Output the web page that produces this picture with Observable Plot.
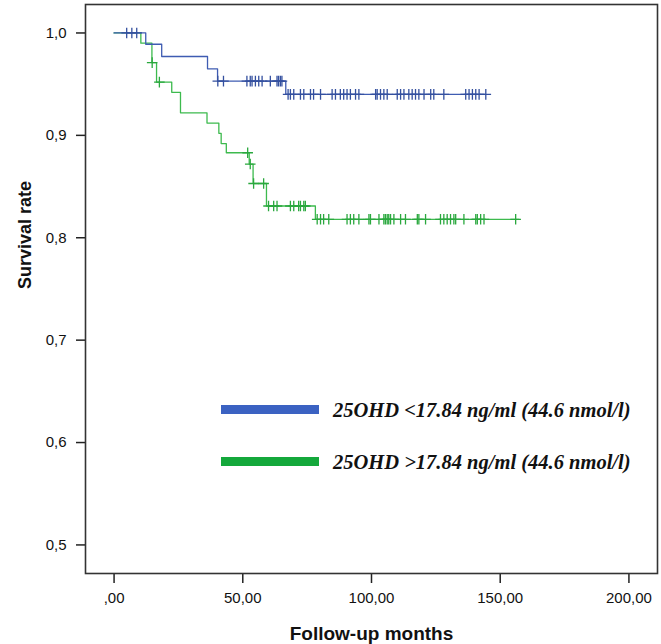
<!DOCTYPE html>
<html>
<head>
<meta charset="utf-8">
<script src="https://cdn.jsdelivr.net/npm/d3@7"></script>
<script src="https://cdn.jsdelivr.net/npm/@observablehq/plot@0.6"></script>
<style>
  html, body { margin: 0; padding: 0; background: #fff; }
  #wrap { position: relative; width: 661px; height: 644px; }
  .lg-bar { position: absolute; left: 221px; width: 98px; height: 9px; }
  .lg-txt { position: absolute; left: 333px; font-family: "Liberation Serif", "Times New Roman", serif;
            font-weight: bold; font-style: italic; font-size: 20.5px; line-height: 20px; color: #111; white-space: nowrap; }
</style>
</head>
<body>
<div id="wrap"></div>
<script>
// ---- data ----
const seriesNames = ["25OHD <17.84 ng/ml (44.6 nmol/l)", "25OHD >17.84 ng/ml (44.6 nmol/l)"];
const seriesColors = ["#3f5cb2", "#3dba4e"];
const legendColors = ["#3b62c2", "#14a83b"];

// Kaplan-Meier steps (time in months, survival)
const blueTimes = [0, 12.3, 18.5, 36.3, 40.2, 66.7, 144.4];
const blueSurv  = [1.0, 0.989, 0.977, 0.965, 0.953, 0.940, 0.940];
const blueCensored = [4.9, 6.9, 8.8, 40.3, 42.5, 51.6, 52.9, 53.6, 54.9, 56.2, 57.5, 60.7, 63.3, 63.9, 64.6, 65.2,
  67.6, 68.5, 69.8, 72.4, 73.7, 76.3, 77.5, 80.2, 84.7, 86.0, 87.9, 89.2, 90.5, 91.8, 93.8, 95.1,
  101.6, 102.2, 103.5, 104.8, 106.1, 110.0, 111.3, 112.6, 114.5, 115.8, 117.1, 118.4, 120.4, 123.0, 124.2,
  128.1, 136.6, 137.9, 139.2, 140.5, 141.8, 144.4];

const greenTimes = [0, 10.4, 14.7, 16.5, 22.4, 25.8, 36.1, 40.7, 41.6, 43.6, 52.5, 54.0, 59.2, 78.2, 157.3];
const greenSurv  = [1.0, 0.990, 0.971, 0.952, 0.942, 0.922, 0.912, 0.902, 0.892, 0.883, 0.872, 0.853, 0.831, 0.818, 0.818];
const greenCensored = [14.8, 17.6, 51.9, 52.9, 54.2, 58.1, 60.0, 62.0, 63.3, 68.5, 69.8, 71.7, 72.4, 73.7, 74.3,
  78.9, 80.2, 81.4, 83.4, 90.5, 91.8, 93.1, 95.1, 99.0, 99.6, 102.9, 104.8, 105.4, 106.1, 106.7, 107.4, 108.7,
  111.3, 113.2, 117.8, 118.4, 121.0, 126.8, 128.1, 129.4, 130.7, 132.0, 132.7, 135.9, 140.5, 141.1, 142.4, 143.7, 156.0];

const xTicks = [0, 50, 100, 150, 200];
const xTickLabels = [",00", "50,00", "100,00", "150,00", "200,00"];
const yTicks = [0.5, 0.6, 0.7, 0.8, 0.9, 1.0];
const yTickLabels = ["0,5", "0,6", "0,7", "0,8", "0,9", "1,0"];
const xTitle = "Follow-up months";
const yTitle = "Survival rate";

// ---- build tables ----
function steps(times, surv) { return times.map((t, i) => ({t, s: surv[i]})); }
function censorPts(censored, times, surv) {
  return censored.map(c => {
    let s = surv[0];
    for (let i = 0; i < times.length; i++) if (times[i] <= c) s = surv[i];
    return {t: c, s};
  });
}
const blueSteps = steps(blueTimes, blueSurv);
const greenSteps = steps(greenTimes, greenSurv);
const blueCens = censorPts(blueCensored, blueTimes, blueSurv);
const greenCens = censorPts(greenCensored, greenTimes, greenSurv);

const chart = Plot.plot({
  width: 661, height: 644,
  marginLeft: 85, marginRight: 4, marginTop: 4, marginBottom: 71,
  style: {fontFamily: "'Liberation Sans', Arial, sans-serif", fontSize: "15px", color: "#111", background: "#fff"},
  x: {domain: [-11.1, 211.1]},
  y: {domain: [0.4721, 1.0278]},
  marks: [
    Plot.axisX({ticks: xTicks, tickFormat: d => xTickLabels[xTicks.indexOf(d)], tickSize: 10, tickPadding: 9, label: null, stroke: "#222", strokeWidth: 1.5, fontSize: 15}),
    Plot.axisY({ticks: yTicks, tickFormat: d => yTickLabels[yTicks.findIndex(v => Math.abs(v - d) < 1e-9)], tickSize: 9, tickPadding: 10, label: null, stroke: "#222", strokeWidth: 1.5, fontSize: 15}),
    Plot.line(greenSteps, {x: "t", y: "s", curve: "step-after", stroke: seriesColors[1], strokeWidth: 1.3}),
    Plot.line(blueSteps, {x: "t", y: "s", curve: "step-after", stroke: seriesColors[0], strokeWidth: 1.3}),
    Plot.dot(greenCens, {x: "t", y: "s", symbol: "plus", r: 3.5, stroke: "#2aa83e", strokeWidth: 1.3}),
    Plot.dot(blueCens, {x: "t", y: "s", symbol: "plus", r: 3.5, stroke: "#34509f", strokeWidth: 1.3}),
    Plot.frame({stroke: "#333", strokeWidth: 1.6}),
    Plot.text([xTitle], {frameAnchor: "bottom", dy: 60, text: d => d, fontWeight: "bold", fontSize: 19, lineAnchor: "middle", fill: "#111"}),
    Plot.text([yTitle], {frameAnchor: "left", dx: -60, rotate: -90, text: d => d, fontWeight: "bold", fontSize: 18, lineAnchor: "middle", fill: "#111"})
  ]
});
const wrap = document.getElementById("wrap");
wrap.appendChild(chart);

// legend overlay
const barTops = [405, 456.5];
const txtTops = [400, 451.5];
seriesNames.forEach((name, i) => {
  const bar = document.createElement("div");
  bar.className = "lg-bar";
  bar.style.top = barTops[i] + "px";
  bar.style.background = legendColors[i];
  wrap.appendChild(bar);
  const txt = document.createElement("div");
  txt.className = "lg-txt";
  txt.style.top = txtTops[i] + "px";
  txt.textContent = name;
  wrap.appendChild(txt);
});
</script>
</body>
</html>
